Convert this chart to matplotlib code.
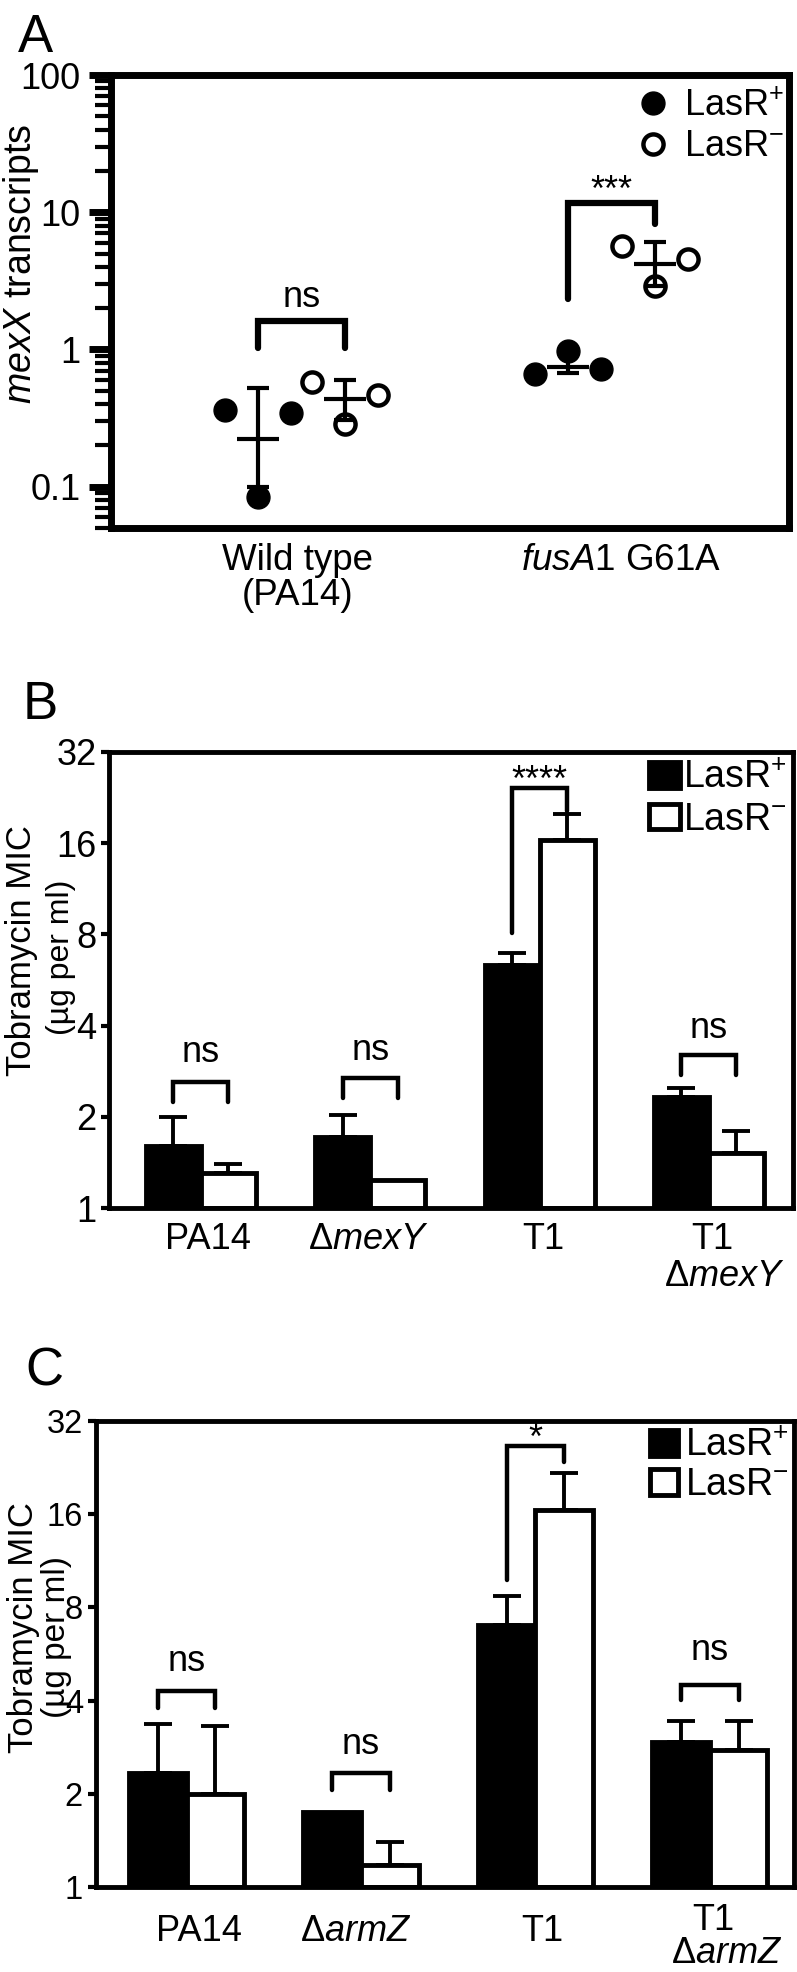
import numpy as np
import matplotlib
matplotlib.use("Agg")
import matplotlib.pyplot as plt
from matplotlib.lines import Line2D
from matplotlib.patches import Patch

plt.rcParams['font.family'] = ['Liberation Sans', 'DejaVu Sans']
plt.rcParams['mathtext.fontset'] = 'custom'
plt.rcParams['mathtext.rm'] = 'Liberation Sans'
plt.rcParams['mathtext.it'] = 'Liberation Sans:italic'

# =========================================================
# DATA
# =========================================================

# panel A : mexX transcripts, three replicates per strain
a_labels = ["Wild type\n(PA14)", r"$\it{fusA1}$ G61A"]
a_lasr_pos = [[0.365, 0.0845, 0.345], [0.668, 0.975, 0.717]]
a_lasr_neg = [[0.58, 0.288, 0.468], [5.67, 2.92, 4.58]]
a_mean_pos = [0.224, 0.743]
a_mean_neg = [0.435, 4.17]
a_sd_pos_hi = [0.52, 0.947]
a_sd_pos_lo = [0.099, 0.67]
a_sd_neg_hi = [0.60, 6.1]
a_sd_neg_lo = [0.305, 2.92]
# bracket: left leg end, right leg end, top, text y, text
a_brackets = [(1.03, 1.03, 1.6, 2.38, "ns"), (2.32, 8.25, 11.6, 14.1, "***")]

# panel B : tobramycin MIC
b_labels = ["PA14", r"Δ$\it{mexY}$", "T1", "T1"]
b_label2 = r"Δ$\it{mexY}$"
b_label_x = [0.04, 0.99, 2.02, 3.02, 3.09]
b_pos = [1.6, 1.72, 6.32, 2.32]
b_pos_err = [1.99, 2.02, 6.97, 2.49]
b_neg = [1.3, 1.24, 16.4, 1.52]
b_neg_err = [1.4, 1.24, 20.0, 1.79]
b_brackets = [(2.23, 2.23, 2.6, 3.27, "ns"), (2.31, 2.31, 2.69, 3.3, "ns"),
              (8.1, 20.5, 24.3, 25.6, "****"), (2.74, 2.74, 3.21, 3.9, "ns")]

# panel C : tobramycin MIC
c_labels = ["PA14", r"Δ$\it{armZ}$", "T1", "T1"]
c_label2 = r"Δ$\it{armZ}$"
c_label_x = [0.07, 0.97, 2.04, 3.02, 3.1]
c_pos = [2.33, 1.75, 7.0, 2.93]
c_pos_err = [3.35, 1.75, 8.72, 3.43]
c_neg = [1.99, 1.18, 16.5, 2.77]
c_neg_err = [3.3, 1.4, 21.7, 3.43]
c_brackets = [(3.78, 3.78, 4.29, 5.36, "ns"), (2.06, 2.06, 2.33, 2.88, "ns"),
              (9.8, 23.6, 26.5, 27.9, "*"), (4.02, 4.02, 4.5, 5.8, "ns")]

mic_ticks = [1, 2, 4, 8, 16, 32]

W, H = 797, 1972


def px_axes(fig, left, right, top, bottom):
    return fig.add_axes([left / W, 1 - bottom / H, (right - left) / W, (bottom - top) / H])


def draw_bracket(ax, x1, x2, br, lw, fs):
    y1, y2, top, ty, txt = br
    ax.plot([x1, x1, x2, x2], [y1, top, top, y2], color="black", lw=lw,
            solid_capstyle="round", solid_joinstyle="miter", zorder=5)
    ax.text((x1 + x2) / 2, ty, txt, ha="center", va="center", fontsize=fs)


fig = plt.figure(figsize=(W / 100, H / 100), dpi=100)

# =========================================================
# PANEL A
# =========================================================
ax = px_axes(fig, 111, 789, 75, 528)
ax.set_yscale("log")
ax.set_xlim(0, 10)
ax.set_ylim(0.05, 100)

group_x = [2.81, 7.38]
label_x = [2.75, 7.52]
off = 0.64
spread = np.array([-0.49, 0, 0.49])

for i, gx in enumerate(group_x):
    for xc, pts, mean, lo, hi, filled in [
        (gx - off, a_lasr_pos[i], a_mean_pos[i], a_sd_pos_lo[i], a_sd_pos_hi[i], True),
        (gx + off, a_lasr_neg[i], a_mean_neg[i], a_sd_neg_lo[i], a_sd_neg_hi[i], False),
    ]:
        ax.hlines(mean, xc - 0.31, xc + 0.31, color="black", lw=3)
        ax.errorbar([xc], [mean], yerr=[[mean - lo], [hi - mean]], fmt="none",
                    ecolor="black", elinewidth=3, capsize=8, capthick=3)
        if filled:
            ax.plot(xc + spread, pts, "o", ms=16.5, color="black", zorder=4)
        else:
            ax.plot(xc + spread, pts, "o", ms=14.5, mfc="none", mec="black", mew=3.2, zorder=4)
    draw_bracket(ax, gx - off, gx + off, a_brackets[i], 4.5, 26)

ax.set_yticks([0.1, 1, 10, 100], ["0.1", "1", "10", "100"])
ax.tick_params(axis="y", which="major", length=16, width=5, labelsize=26, pad=6)
ax.tick_params(axis="y", which="minor", length=11.5, width=3)
ax.set_xticks(label_x, a_labels)
ax.tick_params(axis="x", length=0, labelsize=26.5, pad=11)
for lbl in ax.get_xticklabels():
    lbl.set_linespacing(1.0)
for s in ax.spines.values():
    s.set_linewidth(5)

handles = [Line2D([], [], marker="o", ls="", ms=16.5, color="black"),
           Line2D([], [], marker="o", ls="", ms=14.5, mfc="none", mec="black", mew=3.2)]
ax.legend(handles, [r"LasR$^{+}$", r"LasR$^{-}$"], loc="upper right",
          bbox_to_anchor=(0.9926, 0.9695), frameon=False, fontsize=26,
          handletextpad=0.35, borderaxespad=0, borderpad=0,
          labelspacing=0.15, handlelength=1.0)

fig.text(21 / W, 1 - 264 / H, r"$\it{mexX}$ transcripts", rotation=90, fontsize=27,
         ha="center", va="center")
fig.text(18 / W, 1 - 12.5 / H, "A", fontsize=38, ha="left", va="top")


# =========================================================
# PANELS B AND C
# =========================================================
def mic_panel(ax, labels, label2, lab_x, pos, pos_err, neg, neg_err, brackets, bw,
              lab_y, tsize):
    x = np.arange(len(labels))
    ax.set_yscale("log", base=2)
    ax.bar(x - bw / 2, np.array(pos) - 1, bottom=1, width=bw, color="black",
           edgecolor="black", lw=3.5, zorder=2)
    ax.bar(x + bw / 2, np.array(neg) - 1, bottom=1, width=bw, color="white",
           edgecolor="black", lw=3.5, zorder=2)
    for xs, vals, errs in [(x - bw / 2, pos, pos_err), (x + bw / 2, neg, neg_err)]:
        for xi, v, e in zip(xs, vals, errs):
            if e > v:
                ax.errorbar([xi], [v], yerr=[[0], [e - v]], fmt="none", ecolor="black",
                            elinewidth=2.8, capsize=10, capthick=2.8, zorder=3)
    for xi, br in zip(x, brackets):
        draw_bracket(ax, xi - bw / 2, xi + bw / 2, br, 3.2, 26)
    ax.set_ylim(1, 32)
    ax.set_yticks(mic_ticks, [str(t) for t in mic_ticks])
    ax.yaxis.set_minor_locator(matplotlib.ticker.NullLocator())
    ax.tick_params(axis="y", length=6, width=3, labelsize=tsize, pad=3)
    ax.set_xticks([])
    for s in ax.spines.values():
        s.set_linewidth(3.5)
    tr = ax.get_xaxis_transform()
    for lx, lab, ly in zip(lab_x, labels + [label2], lab_y):
        ax.text(lx, ly, lab, transform=tr, ha="center", va="top", fontsize=26)
    hl = [Patch(facecolor="black", edgecolor="black", lw=3.5),
          Patch(facecolor="white", edgecolor="black", lw=3.5)]
    return hl


ax_b = px_axes(fig, 109, 793, 752, 1208)
ax_b.set_xlim(-0.543, 3.497)
hl = mic_panel(ax_b, b_labels, b_label2, b_label_x, b_pos, b_pos_err, b_neg,
               b_neg_err, b_brackets, 0.325,
               (-0.031, -0.031, -0.031, -0.031, -0.112), 26)
ax_b.legend(hl, [r"LasR$^{+}$", r"LasR$^{-}$"], loc="upper right",
            bbox_to_anchor=(0.9912, 0.9822), frameon=False, fontsize=27,
            handletextpad=0.08, borderaxespad=0, borderpad=0, labelspacing=0.147,
            handlelength=0.83, handleheight=0.67)
fig.text(22 / W, 1 - 951 / H, "Tobramycin MIC", rotation=90, fontsize=25,
         ha="center", va="center")
fig.text(61 / W, 1 - 957 / H, "(µg per ml)", rotation=90, fontsize=23,
         ha="center", va="center")
fig.text(23 / W, 1 - 680 / H, "B", fontsize=38, ha="left", va="top")

ax_c = px_axes(fig, 95.5, 794, 1421, 1887)
ax_c.set_xlim(-0.522, 3.483)
hl = mic_panel(ax_c, c_labels, c_label2, c_label_x, c_pos, c_pos_err, c_neg,
               c_neg_err, c_brackets, 0.33,
               (-0.058, -0.058, -0.058, -0.034, -0.105), 23.5)
ax_c.legend(hl, [r"LasR$^{+}$", r"LasR$^{-}$"], loc="upper right",
            bbox_to_anchor=(0.9928, 0.9853), frameon=False, fontsize=27,
            handletextpad=0.19, borderaxespad=0, borderpad=0, labelspacing=0.075,
            handlelength=0.75, handleheight=0.69)
fig.text(24 / W, 1 - 1628 / H, "Tobramycin MIC", rotation=90, fontsize=25,
         ha="center", va="center")
fig.text(57 / W, 1 - 1637 / H, "(µg per ml)", rotation=90, fontsize=24,
         ha="center", va="center")
fig.text(25 / W, 1 - 1346 / H, "C", fontsize=38, ha="left", va="top")

fig.savefig("out.png", dpi=100)
